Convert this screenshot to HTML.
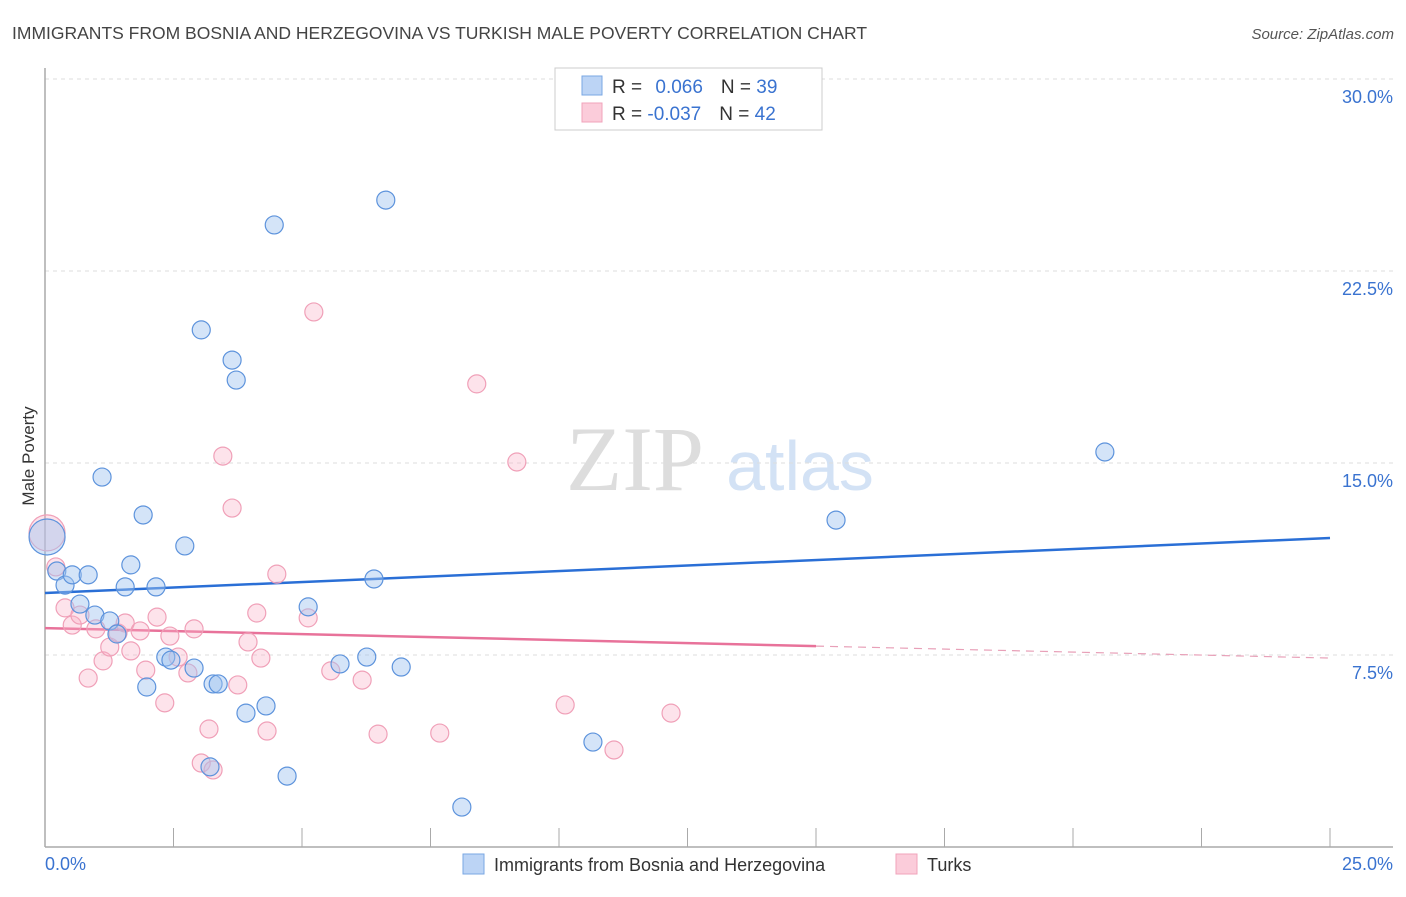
<!DOCTYPE html>
<html><head><meta charset="utf-8"><style>
body{margin:0;background:#fff;font-family:"Liberation Sans",sans-serif;}
</style></head><body>
<svg id="chart" width="1406" height="892" xmlns="http://www.w3.org/2000/svg" font-family="Liberation Sans, sans-serif">
<text x="12" y="39" font-size="17.5" fill="#444">IMMIGRANTS FROM BOSNIA AND HERZEGOVINA VS TURKISH MALE POVERTY CORRELATION CHART</text>
<text x="1394" y="39" font-size="15" fill="#555" font-style="italic" text-anchor="end">Source: ZipAtlas.com</text>
<text x="34" y="456" font-size="17" fill="#333" text-anchor="middle" transform="rotate(-90 34 456)">Male Poverty</text>
<g>
<text x="635" y="490" font-size="92" fill="#ddd" font-family="Liberation Serif, serif" text-anchor="middle">ZIP</text>
<text x="800" y="490" font-size="70" fill="#d3e2f5" text-anchor="middle">atlas</text>
</g>
<g id="grid"></g>
<g id="axes"></g>
<g id="trend"></g>
<g id="points"></g>
<g>
<rect x="555" y="68" width="267" height="62" fill="#fff" stroke="#ccc"/>
<rect x="582" y="76" width="20" height="19" fill="#bcd4f5" stroke="#7aa7e3"/>
<rect x="582" y="103" width="20" height="19" fill="#fbccda" stroke="#f0a3bb"/>
<text x="612" y="93" font-size="19" fill="#333">R = <tspan fill="#3a73d0" dx="8">0.066</tspan><tspan fill="#333" dx="18">N = </tspan><tspan fill="#3a73d0">39</tspan></text>
<text x="612" y="120" font-size="19" fill="#333">R = <tspan fill="#3a73d0">-0.037</tspan><tspan fill="#333" dx="18">N = </tspan><tspan fill="#3a73d0">42</tspan></text>
</g>
<g>
<rect x="463" y="854" width="21" height="20" fill="#bcd4f5" stroke="#7aa7e3"/>
<text x="494" y="871" font-size="18" fill="#333">Immigrants from Bosnia and Herzegovina</text>
<rect x="896" y="854" width="21" height="20" fill="#fbccda" stroke="#f0a3bb"/>
<text x="927" y="871" font-size="18" fill="#333">Turks</text>
</g>
</svg>
<script>
const yTicks=[7.5,15,22.5,30];
const yTickLabels=["7.5%","15.0%","22.5%","30.0%"];
const xTickLabels=["0.0%","25.0%"];
const blueX=[0.04,0.23,0.39,0.53,0.84,0.68,0.97,1.11,1.26,1.40,1.56,1.67,1.91,1.98,2.16,2.35,2.45,2.72,2.90,3.04,3.27,3.37,3.64,3.72,3.91,4.30,4.46,4.71,5.12,5.74,6.26,6.40,6.63,6.93,8.11,10.66,15.39,20.62,3.21];
const blueY=[12.11,10.78,10.23,10.63,10.63,9.49,9.06,14.45,8.83,8.32,10.16,11.02,12.97,6.25,10.16,7.42,7.30,11.76,6.99,20.20,6.37,6.37,19.02,18.24,5.23,5.51,24.30,2.77,9.38,7.15,7.42,10.47,25.27,7.03,1.56,4.10,12.77,15.43,3.13];
const pinkX=[0.04,0.21,0.39,0.53,0.68,0.84,0.99,1.13,1.26,1.42,1.56,1.67,1.85,1.96,2.18,2.33,2.43,2.59,2.78,2.90,3.04,3.19,3.27,3.46,3.64,3.75,3.95,4.12,4.20,4.32,4.51,5.12,5.23,5.56,6.17,6.48,7.68,8.40,9.18,10.12,11.07,12.18];
const pinkY=[12.27,10.94,9.34,8.67,9.06,6.60,8.52,7.27,7.81,8.36,8.75,7.66,8.44,6.91,8.98,5.63,8.24,7.42,6.80,8.52,3.28,4.61,3.01,15.27,13.24,6.33,8.01,9.14,7.38,4.53,10.66,8.95,20.90,6.88,6.52,4.41,4.45,18.09,15.04,5.55,3.79,5.23];
const blueTrend=[9.92,12.07]; // y at x=0, x=25
const pinkTrend=[8.55,7.38];
const pinkSolidEnd=15;
const NS="http://www.w3.org/2000/svg";
const X=v=>45+v/25*1285, Y=v=>847-v/7.5*192;
function mk(tag,attrs,parent){const e=document.createElementNS(NS,tag);for(const k in attrs)e.setAttribute(k,attrs[k]);parent.appendChild(e);return e;}
const grid=document.getElementById('grid'),axes=document.getElementById('axes'),trend=document.getElementById('trend'),pts=document.getElementById('points');
yTicks.forEach((t,i)=>{
 const l=mk('line',{x1:45,x2:1393,y1:Y(t),y2:Y(t),stroke:'#ddd','stroke-dasharray':'4,4'},grid);
 
 
 const tx=mk('text',{x:1393,y:Y(t)+24,'font-size':18,fill:'#3a73d0','text-anchor':'end'},axes);
 tx.textContent=yTickLabels[i];
 
 
});
const la=mk('line',{x1:45,x2:45,y1:68,y2:847,stroke:'#aaa','stroke-width':1.5},axes);


const lb=mk('line',{x1:45,x2:1393,y1:847,y2:847,stroke:'#aaa','stroke-width':1.5},axes);


for(let i=1;i<=10;i++){
 const tk=mk('line',{x1:X(i*2.5),x2:X(i*2.5),y1:828,y2:847,stroke:'#aaa'},axes);
 
 
}
[[0,45,'start'],[25,1393,'end']].forEach((a,i)=>{
 const tx=mk('text',{x:a[1],y:870,'font-size':18,fill:'#3a73d0','text-anchor':a[2]},axes);
 tx.textContent=xTickLabels[i];
 
 
});
const bt=mk('line',{x1:X(0),y1:Y(blueTrend[0]),x2:X(25),y2:Y(blueTrend[1]),stroke:'#2a6fd6','stroke-width':2.5},trend);


const pAt=x=>pinkTrend[0]+(pinkTrend[1]-pinkTrend[0])*x/25;
const pt1=mk('line',{x1:X(0),y1:Y(pAt(0)),x2:X(pinkSolidEnd),y2:Y(pAt(pinkSolidEnd)),stroke:'#e8729a','stroke-width':2.5},trend);


const pt2=mk('line',{x1:X(pinkSolidEnd),y1:Y(pAt(pinkSolidEnd)),x2:X(25),y2:Y(pAt(25)),stroke:'#e8a0b8','stroke-width':1.2,'stroke-dasharray':'8,6'},trend);


function drawPts(xs,ys,fill,stroke,name){
 xs.forEach((x,i)=>{
  const c=mk('circle',{cx:X(x),cy:Y(ys[i]),r:i===0?18:9,fill:fill,stroke:stroke,'stroke-width':1.2},pts);
  
  
 });
}
drawPts(pinkX,pinkY,'rgba(248,175,198,0.35)','#f0a0b8','turks-point');
drawPts(blueX,blueY,'rgba(160,196,240,0.45)','#5d93dc','bosnia-point');
</script>
</body></html>
